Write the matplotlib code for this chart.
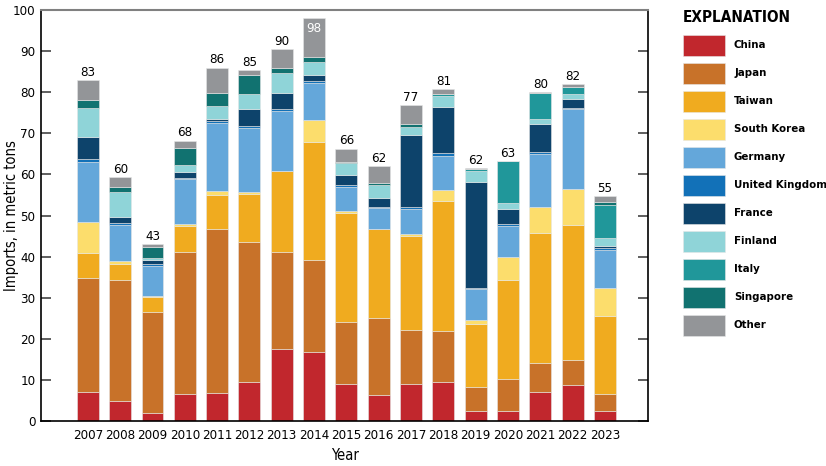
import matplotlib
matplotlib.use('Agg')
import matplotlib.pyplot as plt
from matplotlib.patches import Rectangle
import numpy as np

plt.rcParams['font.family'] = ['DejaVu Sans']
plt.rcParams['font.stretch'] = 'condensed'

years = ['2007', '2008', '2009', '2010', '2011', '2012', '2013', '2014', '2015',
         '2016', '2017', '2018', '2019', '2020', '2021', '2022', '2023']
totals = [83, 60, 43, 68, 86, 85, 90, 98, 66, 62, 77, 81, 62, 63, 80, 82, 55]

china = [7.0, 4.9, 2.0, 6.5, 6.9, 9.6, 17.5, 16.7, 8.9, 6.3, 9.0, 9.6, 2.5, 2.5, 7.1, 8.8, 2.5]
japan = [27.8, 29.5, 24.4, 34.6, 39.9, 34.0, 23.5, 22.5, 15.3, 18.8, 13.1, 12.3, 5.8, 7.6, 6.9, 6.0, 4.0]
taiwan = [6.1, 3.9, 3.8, 6.4, 8.3, 11.7, 19.8, 28.7, 26.4, 21.6, 22.9, 31.6, 15.4, 24.2, 31.7, 32.9, 19.0]
south_korea = [7.4, 0.7, 0.2, 0.4, 0.8, 0.3, 0.0, 5.4, 0.5, 0.0, 0.4, 2.7, 0.8, 5.6, 6.3, 8.8, 6.9]
germany = [14.7, 8.7, 7.2, 10.9, 16.5, 15.6, 14.6, 9.0, 5.8, 5.2, 6.2, 8.3, 7.6, 7.5, 12.9, 19.3, 9.2]
uk = [0.8, 0.5, 0.6, 0.4, 0.5, 0.6, 0.6, 0.4, 0.6, 0.2, 0.4, 0.8, 0.3, 0.6, 0.5, 0.4, 0.4]
france = [5.4, 1.4, 0.9, 1.3, 0.7, 4.1, 3.7, 1.4, 2.3, 2.2, 17.6, 11.0, 25.8, 3.7, 6.9, 2.1, 0.6]
finland = [6.9, 6.1, 0.5, 1.7, 3.1, 3.7, 5.0, 3.3, 3.0, 3.2, 1.9, 2.8, 2.7, 1.3, 1.2, 1.2, 2.0]
italy = [0.0, 0.0, 0.0, 0.0, 0.0, 0.0, 0.0, 0.0, 0.0, 0.0, 0.0, 0.4, 0.3, 10.2, 6.3, 1.8, 7.9]
singapore = [2.0, 1.2, 2.8, 4.3, 3.2, 4.5, 1.3, 1.2, 0.2, 0.3, 0.7, 0.0, 0.0, 0.0, 0.0, 0.0, 0.7]
other = [4.9, 2.5, 0.6, 1.7, 6.1, 1.3, 4.4, 9.4, 3.3, 4.2, 4.7, 1.2, 0.4, 0.0, 0.3, 0.7, 1.5]

series = [
    ('China', china, '#c1272d'),
    ('Japan', japan, '#c87229'),
    ('Taiwan', taiwan, '#f0ab1f'),
    ('South Korea', south_korea, '#fcdd6c'),
    ('Germany', germany, '#64a7da'),
    ('United Kingdom', uk, '#1271b8'),
    ('France', france, '#0d436b'),
    ('Finland', finland, '#8fd4d8'),
    ('Italy', italy, '#20979a'),
    ('Singapore', singapore, '#117270'),
    ('Other', other, '#939598'),
]

W, H = 826, 466
fig = plt.figure(figsize=(W / 100, H / 100), dpi=100)
ax = fig.add_axes([41 / W, 45 / H, 607 / W, 411 / H])

x = np.arange(len(years))
bottom = np.zeros(len(years))
for name, vals, color in series:
    vals = np.array(vals)
    ax.bar(x, vals, 0.68, bottom=bottom, color=color, edgecolor='#e6e6e6',
           linewidth=0.4, label=name)
    bottom += vals

for i, t in enumerate(totals):
    if years[i] == '2014':
        ax.text(x[i], bottom[i] - 0.8, str(t), ha='center', va='top',
                color='white', fontsize=9.5)
    else:
        ax.text(x[i], bottom[i] + 0.3, str(t), ha='center', va='bottom',
                color='black', fontsize=9.5)

ax.set_xlim(-1.45, len(years) - 1 + 1.33)
ax.set_ylim(0, 100)
ax.set_yticks(range(0, 101, 10))
ax.set_xticks(x)
ax.set_xticklabels(years)
ax.tick_params(axis='x', length=0, labelsize=9.5, pad=6)
ax.tick_params(axis='y', direction='in', length=7, width=1.2, color='#444444',
               labelsize=9.5, right=True, labelright=False, pad=4)
ax.spines['top'].set_color('#808080')
ax.spines['top'].set_linewidth(1.5)
for s in ['left', 'right', 'bottom']:
    ax.spines[s].set_linewidth(1.2)
ax.set_ylabel('Imports, in metric tons', fontsize=10.5)
ax.yaxis.set_label_coords(-0.036, 0.5)
ax.set_xlabel('Year', fontsize=10.5, labelpad=4)

# legend ("EXPLANATION") drawn by hand in pixel units
fig.text(683 / W, 1 - 17 / H, 'EXPLANATION', ha='left', va='center',
         fontsize=11, fontweight='bold')
for k, (name, _, color) in enumerate(series):
    top = 35 + 28 * k
    fig.add_artist(Rectangle((683 / W, 1 - (top + 21) / H), 42 / W, 21 / H,
                             transform=fig.transFigure, facecolor=color,
                             edgecolor='#e6e6e6', linewidth=0.4))
    fig.text(734 / W, 1 - (top + 10.5) / H, name, ha='left', va='center',
             fontsize=8.2, fontweight='bold')

fig.savefig('out.png', dpi=100)
